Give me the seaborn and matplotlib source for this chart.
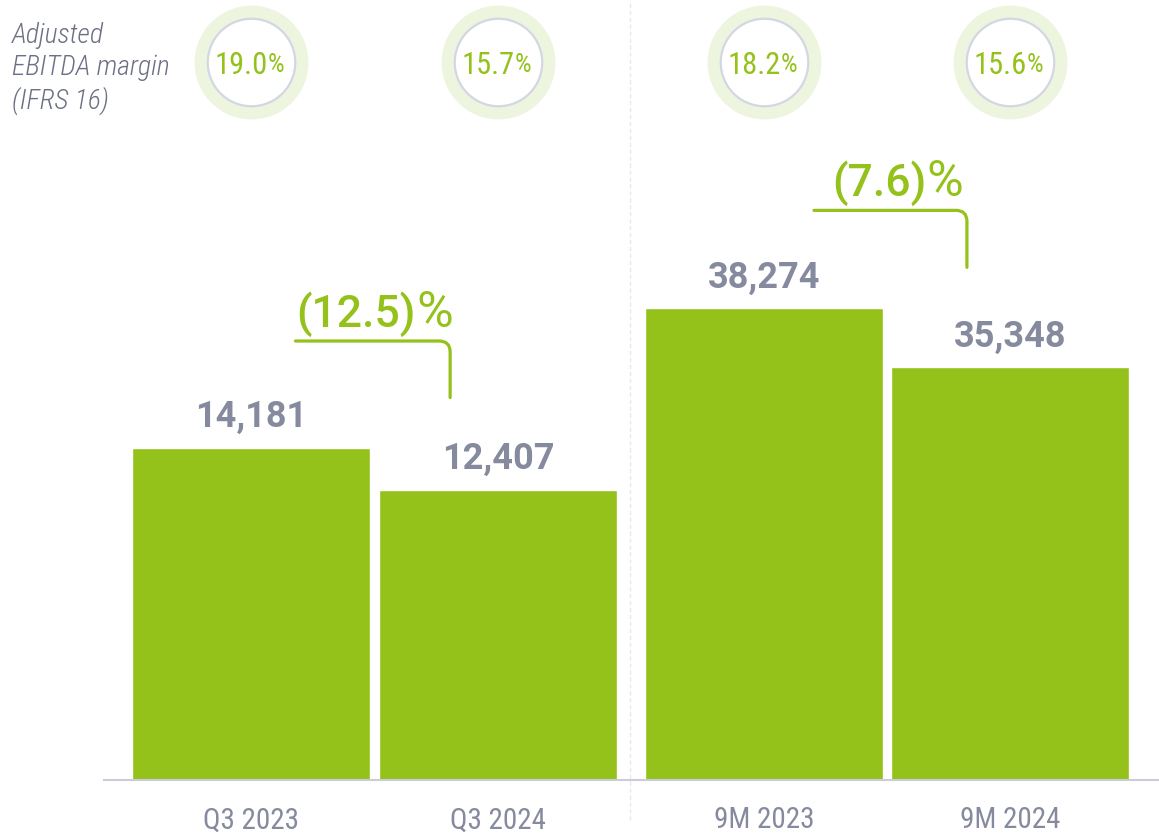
import matplotlib
matplotlib.use("Agg")
import matplotlib.pyplot as plt
import matplotlib.transforms as mtransforms
from matplotlib import font_manager as fm
from matplotlib.lines import Line2D
import seaborn as sns

# ─ data ─
periods_q3 = ["Q3 2023", "Q3 2024"]
ebitda_q3 = [14181, 12407]
margin_q3 = ["19.0", "15.7"]
change_q3 = "(12.5)"

periods_9m = ["9M 2023", "9M 2024"]
ebitda_9m = [38274, 35348]
margin_9m = ["18.2", "15.6"]
change_9m = "(7.6)"

# ─ style ─
GREEN = "#94c11a"
GRAY = "#868a9e"
RING = "#eef5de"
EDGE = "#d3d7e3"

sns.set_style("white")
names = {f.name for f in fm.fontManager.ttflist}
COND = "Roboto Condensed" if "Roboto Condensed" in names else "Roboto"
WIDE = ["Roboto", "DejaVu Sans"]
plt.rcParams["font.family"] = [COND, "DejaVu Sans"]

fig = plt.figure(figsize=(11.59, 8.35), dpi=100)
W, H = 1159, 835


def px_axes(x0, x1):
    # axes from pixel x0..x1, baseline at y=780 px from the top
    return fig.add_axes([x0 / W, 55 / H, (x1 - x0) / W, 780 / H])


def draw_group(ax, periods, values, margins, change, ylim, xlim, offs):
    sns.barplot(x=periods, y=values, ax=ax, color=GREEN, saturation=1,
                width=0.964, zorder=2)
    ax.set_ylim(*ylim)
    ax.set_xlim(*xlim)
    ax.set_xlabel("")
    ax.set_ylabel("")
    ax.set_yticks([])
    for s in ["top", "left", "right"]:
        ax.spines[s].set_visible(False)
    ax.spines["bottom"].set_color("#c9cdd9")
    ax.spines["bottom"].set_linewidth(1.5)
    ax.tick_params(axis="x", length=0, pad=19, labelsize=21, labelcolor=GRAY)
    ax.patch.set_alpha(0)

    # value labels
    for i, v in enumerate(values):
        ax.annotate(f"{v:,}", xy=(i, v), xytext=(0, 15), textcoords="offset points",
                    ha="center", va="baseline", fontsize=26, fontweight="bold",
                    color=GRAY, family=WIDE)

    # margin circles at the top
    trans = mtransforms.blended_transform_factory(ax.transData, ax.transAxes)
    cy = 0.9205
    ax.scatter(range(len(values)), [cy] * len(values), s=82 ** 2, color=RING,
               linewidths=0, transform=trans, clip_on=False, zorder=3)
    ax.scatter(range(len(values)), [cy] * len(values), s=63 ** 2, facecolor="white",
               edgecolor=EDGE, linewidths=1.6, transform=trans, clip_on=False, zorder=4)
    for i, m in enumerate(margins):
        tr = mtransforms.offset_copy(trans, fig=fig, x=17, units="dots")
        ax.text(i, cy, m, transform=tr, ha="right", va="center_baseline",
                fontsize=22, color=GREEN, zorder=5)
        ax.text(i, cy, "%", transform=tr, ha="left", va="center_baseline",
                fontsize=19, color=GREEN, zorder=5)

    # change bracket
    off_a, off_b, x0, x1, xs = offs
    tr_a = mtransforms.offset_copy(ax.transData, fig=fig, y=off_a, units="dots")
    tr_b = mtransforms.offset_copy(ax.transData, fig=fig, y=off_b, units="dots")
    ax.annotate("", xy=(x1, values[1]), xycoords=tr_b,
                xytext=(x0, values[0]), textcoords=tr_a, annotation_clip=False,
                arrowprops=dict(arrowstyle="-", color=GREEN, lw=2.3, shrinkA=0,
                                shrinkB=0,
                                connectionstyle="angle,angleA=0,angleB=90,rad=11"))
    tr_t = mtransforms.offset_copy(ax.transData, fig=fig, y=off_a + 14, units="dots")
    ax.text(xs, values[0], change, transform=tr_t, ha="right", va="baseline",
            fontsize=32, fontweight="medium", color=GREEN, family=WIDE)
    ax.text(xs, values[0], "%", transform=tr_t, ha="left", va="baseline",
            fontsize=36, fontweight="normal", color=GREEN, family=WIDE)


ax1 = px_axes(104, 630)
ax2 = px_axes(630, 1159)

draw_group(ax1, periods_q3, ebitda_q3, margin_q3, change_q3,
           ylim=(0, 33318), xlim=(-0.595, 1.534),
           offs=(107, 92, 0.18, 0.806, 0.668))
draw_group(ax2, periods_9m, ebitda_9m, margin_9m, change_9m,
           ylim=(14880, 53570), xlim=(-0.545, 1.606),
           offs=(98, 100, 0.203, 0.825, 0.659))

# divider between quarter and nine months
fig.add_artist(Line2D([630 / W, 630 / W], [15 / H, 1.0], color="#e6e8ee",
                      lw=1, linestyle=(0, (3, 2))))

fig.text(12 / W, 1 - 22 / H, "Adjusted\nEBITDA margin\n(IFRS 16)", ha="left",
         va="top", fontsize=20, fontstyle="italic", fontweight="light",
         color="#6c7083", linespacing=1.25)

fig.savefig("out.png", dpi=100)
